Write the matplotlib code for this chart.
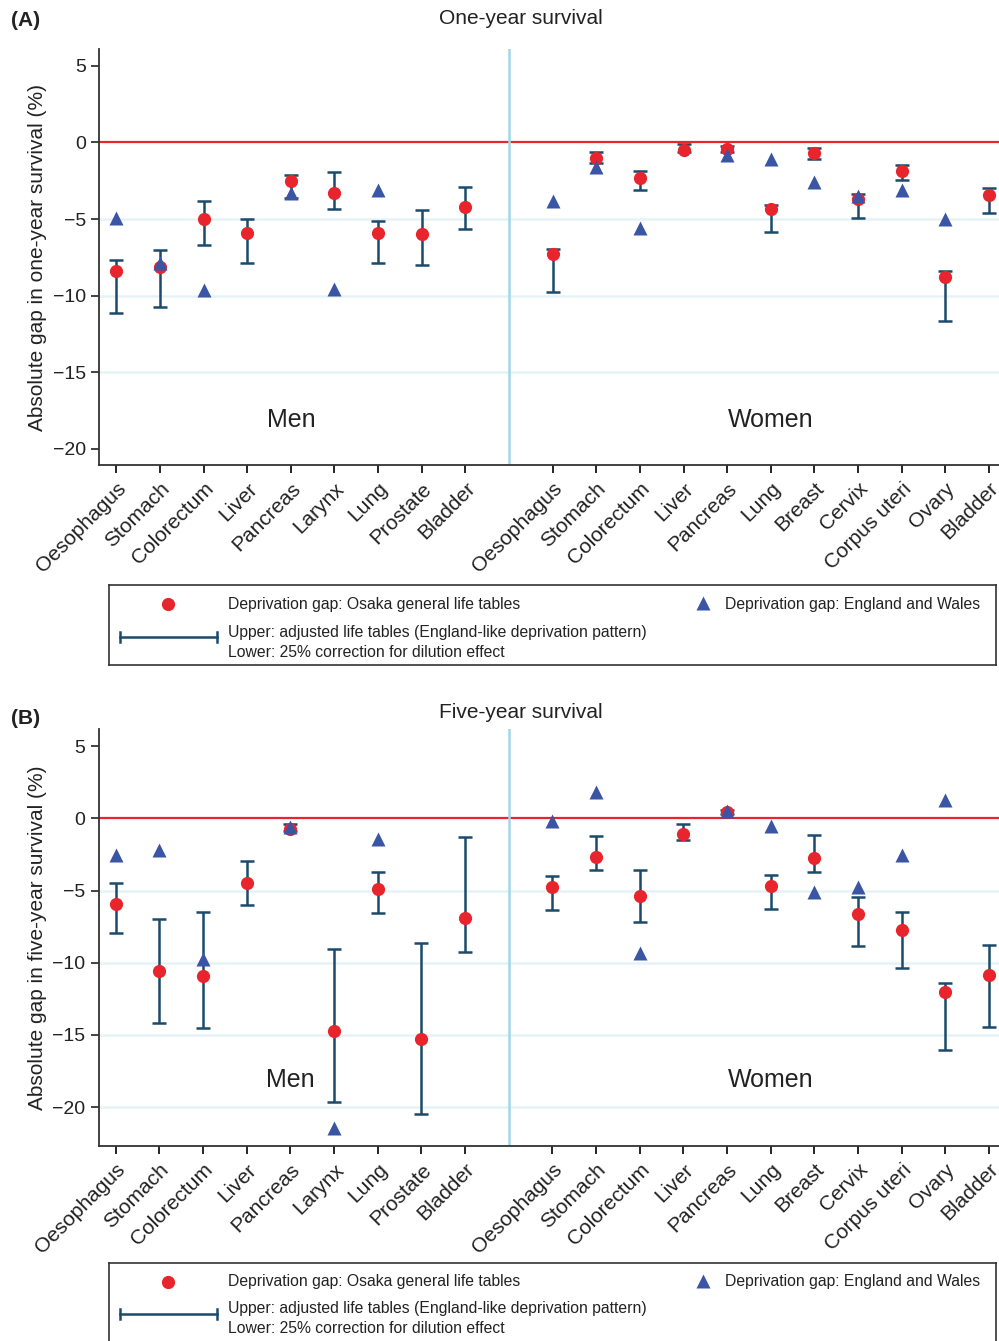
import numpy as np
import matplotlib.pyplot as plt

plt.rcParams['font.family'] = ['Liberation Sans', 'DejaVu Sans']

# --- Data ---
men_sites = ["Oesophagus", "Stomach", "Colorectum", "Liver", "Pancreas",
             "Larynx", "Lung", "Prostate", "Bladder"]
women_sites = ["Oesophagus", "Stomach", "Colorectum", "Liver", "Pancreas",
               "Lung", "Breast", "Cervix", "Corpus uteri", "Ovary", "Bladder"]
nan = np.nan

# One-year survival
one_men_osaka = [-8.4, -8.1, -5.0, -5.9, -2.5, -3.3, -5.9, -6.0, -4.2]
one_men_ew = [-4.95, -7.85, -9.65, nan, -3.3, -9.55, -3.1, nan, nan]
one_men_upper = [-7.7, -7.05, -3.85, -5.0, -2.15, -1.95, -5.15, -4.4, -2.9]
one_men_lower = [-11.15, -10.75, -6.7, -7.85, -3.6, -4.35, -7.85, -8.0, -5.65]

one_women_osaka = [-7.3, -1.0, -2.3, -0.5, -0.45, -4.35, -0.7, -3.7, -1.85, -8.75, -3.45]
one_women_ew = [-3.8, -1.6, -5.6, nan, -0.85, -1.1, -2.6, -3.5, -3.1, -5.0, nan]
one_women_upper = [-6.95, -0.6, -1.85, -0.1, -0.25, -4.05, -0.35, -3.35, -1.5, -8.4, -2.95]
one_women_lower = [-9.75, -1.35, -3.1, -0.6, -0.65, -5.85, -1.1, -4.95, -2.45, -11.65, -4.6]

# Five-year survival
five_men_osaka = [-5.95, -10.6, -10.9, -4.5, -0.75, -14.75, -4.9, -15.3, -6.9]
five_men_ew = [-2.5, -2.2, -9.75, nan, -0.6, -21.45, -1.45, nan, nan]
five_men_upper = [-4.45, -6.95, -6.5, -2.95, -0.4, -9.05, -3.7, -8.6, -1.3]
five_men_lower = [-7.95, -14.15, -14.55, -6.0, -0.85, -19.65, -6.55, -20.45, -9.25]

five_women_osaka = [-4.75, -2.7, -5.4, -1.1, 0.45, -4.7, -2.75, -6.65, -7.75, -12.05, -10.85]
five_women_ew = [-0.2, 1.8, -9.3, nan, 0.55, -0.5, -5.1, -4.75, -2.55, 1.3, nan]
five_women_upper = [-4.0, -1.2, -3.6, -0.4, 0.6, -3.95, -1.15, -5.45, -6.45, -11.4, -8.8]
five_women_lower = [-6.35, -3.6, -7.2, -1.5, 0.3, -6.25, -3.7, -8.85, -10.35, -16.05, -14.45]

yticks = [5, 0, -5, -10, -15, -20]

RED = '#e8242c'
BLUE = '#3a55a4'
NAVY = '#1b4a6b'
DIVIDER = '#9fd8e6'
GRID = '#e6f3f6'
TXT = '#222222'

x_men = np.arange(1, len(men_sites) + 1)
x_women = np.arange(len(men_sites) + 2, len(men_sites) + len(women_sites) + 2)
x_div = len(men_sites) + 1


def draw_panel(ax, osaka, ew, upper, lower, ylim, ylabel):
    x = np.concatenate([x_men, x_women])
    osaka = np.array(osaka)
    ew = np.array(ew)
    upper = np.array(upper)
    lower = np.array(lower)

    for y in yticks:
        if y < 0 and y > ylim[0] + 1.5:
            ax.axhline(y, color=GRID, lw=1.8, zorder=0)
    ax.axhline(0, color=RED, lw=1.6, zorder=1)
    ax.axvline(x_div, color=DIVIDER, lw=1.8, zorder=1)

    ax.errorbar(x, upper, yerr=[upper - lower, np.zeros_like(upper)], fmt='none',
                ecolor=NAVY, elinewidth=1.8, capsize=4.8, capthick=1.8, zorder=2)
    ax.plot(x, osaka, 'o', color=RED, ms=9.5, mec='none', zorder=3)
    ax.plot(x, ew, '^', color=BLUE, ms=10, mec='none', zorder=4)

    ax.set_xlim(0.61, 21.23)
    ax.set_ylim(*ylim)
    ax.set_yticks(yticks)
    ax.set_xticks(x)
    ax.set_xticklabels(men_sites + women_sites, rotation=45, ha='right',
                       rotation_mode='anchor', fontsize=15, color=TXT)
    ax.tick_params(axis='y', labelsize=14, colors=TXT, length=6, width=1.2)
    ax.tick_params(axis='x', length=6, width=1.2, pad=4)
    for s in ['top', 'right']:
        ax.spines[s].set_visible(False)
    for s in ['left', 'bottom']:
        ax.spines[s].set_color('#333333')
        ax.spines[s].set_linewidth(1.3)
    ax.set_ylabel(ylabel, fontsize=15, color=TXT, labelpad=4)

    ax.text(np.mean(x_men), -18.1, "Men", fontsize=18, ha='center', va='center', color=TXT)
    ax.text(np.mean(x_women), -18.1, "Women", fontsize=18, ha='center', va='center', color=TXT)


def draw_legend(fig, top, bottom, y1, y2):
    # legend box in figure pixel coordinates
    W, H = 999, 1341
    lax = fig.add_axes([109 / W, 1 - bottom / H, (996 - 109) / W, (bottom - top) / H])
    lax.set_xlim(109, 996)
    lax.set_ylim(bottom, top)
    lax.set_xticks([])
    lax.set_yticks([])
    for s in lax.spines.values():
        s.set_color('#333333')
        s.set_linewidth(1.2)
    fs = 11.3
    lax.plot([168], [y1], 'o', color=RED, ms=9.5, mec='none')
    lax.text(228, y1, "Deprivation gap: Osaka general life tables", fontsize=fs,
             va='center', color=TXT)
    lax.plot([703], [y1 - 1], '^', color=BLUE, ms=10, mec='none')
    lax.text(725, y1, "Deprivation gap: England and Wales", fontsize=fs,
             va='center', color=TXT)
    lax.plot([120, 217], [y2 + 5, y2 + 5], color=NAVY, lw=1.8)
    lax.plot([120, 120], [y2, y2 + 10], color=NAVY, lw=1.8)
    lax.plot([217, 217], [y2, y2 + 10], color=NAVY, lw=1.8)
    lax.text(228, y2, "Upper: adjusted life tables (England-like deprivation pattern)",
             fontsize=fs, va='center', color=TXT)
    lax.text(228, y2 + 20, "Lower: 25% correction for dilution effect",
             fontsize=fs, va='center', color=TXT)


fig = plt.figure(figsize=(9.99, 13.41), dpi=100)

ax_a = fig.add_axes([0.0994, 0.6532, 0.9006, 0.3103])
draw_panel(ax_a, one_men_osaka + one_women_osaka, one_men_ew + one_women_ew,
           one_men_upper + one_women_upper, one_men_lower + one_women_lower,
           (-21.05, 6.1), "Absolute gap in one-year survival (%)")
fig.text(0.521, 1 - 19 / 1341, "One-year survival", fontsize=15, ha='center', va='center', color=TXT)
fig.text(0.011, 1 - 20 / 1341, "(A)", fontsize=15, fontweight='bold', ha='left', va='center', color=TXT)
draw_legend(fig, 585, 665, 604, 632)

ax_b = fig.add_axes([0.0988, 0.1454, 0.9012, 0.311])
draw_panel(ax_b, five_men_osaka + five_women_osaka, five_men_ew + five_women_ew,
           five_men_upper + five_women_upper, five_men_lower + five_women_lower,
           (-22.7, 6.2), "Absolute gap in five-year survival (%)")
fig.text(0.521, 1 - 712 / 1341, "Five-year survival", fontsize=15, ha='center', va='center', color=TXT)
fig.text(0.011, 1 - 718 / 1341, "(B)", fontsize=15, fontweight='bold', ha='left', va='center', color=TXT)
draw_legend(fig, 1263, 1345, 1282, 1309)

fig.savefig("out.png", dpi=100)
